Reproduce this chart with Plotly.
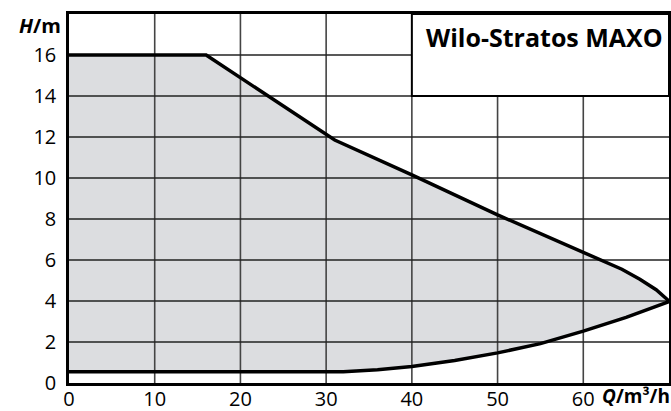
import plotly.graph_objects as go

# Upper limit curve (max head)
top_q = [0, 16, 31, 40, 50, 60, 62.1, 64.5, 66.6, 68.5, 70]
top_h = [16, 16, 11.85, 10.15, 8.2, 6.4, 6.0, 5.55, 5.06, 4.55, 4.0]
# Lower limit curve (min head)
bot_q = [0, 32, 36, 40, 45, 50, 55, 60, 65, 70]
bot_h = [0.55, 0.55, 0.65, 0.81, 1.1, 1.47, 1.92, 2.53, 3.2, 3.97]

x_ticks = [0, 10, 20, 30, 40, 50, 60]
y_ticks = [0, 2, 4, 6, 8, 10, 12, 14, 16]
x_grid = [10, 20, 30, 40, 50, 60]
y_grid = [2, 4, 6, 8, 10, 12, 14, 16]
title_text = "Wilo-Stratos MAXO"

FONT = "Open Sans"
X_MAX, Y_MAX = 70, 18

fig = go.Figure()
poly_q = top_q + bot_q[::-1]
poly_h = top_h + bot_h[::-1]
fig.add_trace(go.Scatter(x=poly_q, y=poly_h, fill="toself", fillcolor="#dcdde0",
                         line=dict(width=0), mode="lines", hoverinfo="skip"))

# grid lines drawn above the fill
gx, gy = [], []
for v in x_grid:
    gx += [v, v, None]
    gy += [0, Y_MAX, None]
fig.add_trace(go.Scatter(x=gx, y=gy, mode="lines", line=dict(color="#444444", width=1.6),
                         hoverinfo="skip"))
hx, hy = [], []
for v in y_grid:
    hx += [0, X_MAX, None]
    hy += [v, v, None]
fig.add_trace(go.Scatter(x=hx, y=hy, mode="lines", line=dict(color="#222222", width=1.4),
                         hoverinfo="skip"))

fig.add_trace(go.Scatter(x=top_q, y=top_h, mode="lines",
                         line=dict(color="black", width=3.5)))
fig.add_trace(go.Scatter(x=bot_q, y=bot_h, mode="lines",
                         line=dict(color="black", width=3.5)))

fig.add_shape(type="rect", x0=40, x1=X_MAX, y0=14, y1=Y_MAX, xref="x", yref="y",
              fillcolor="white", line=dict(color="black", width=2), layer="above")
fig.add_annotation(x=41.4, y=16.9, xref="x", yref="y", text="<b>" + title_text + "</b>",
                   showarrow=False, xanchor="left", yanchor="middle",
                   font=dict(family=FONT, size=25, color="black"))
fig.add_annotation(x=0, y=Y_MAX, xref="paper", yref="y", text="<b><i>H</i>/m</b>",
                   showarrow=False, xanchor="right", yanchor="middle", xshift=-6, yshift=-11,
                   font=dict(family=FONT, size=20, color="black"))
fig.add_annotation(x=1, y=0, xref="paper", yref="paper", text="<b><i>Q</i>/m³/h</b>",
                   showarrow=False, xanchor="right", yanchor="middle", xshift=3, yshift=-13,
                   font=dict(family=FONT, size=19, color="black"))

fig.update_layout(
    width=671, height=411, showlegend=False,
    margin=dict(l=69, r=2, t=14, b=28),
    plot_bgcolor="white", paper_bgcolor="white",
    font=dict(family=FONT, size=20, color="black"),
)
fig.update_xaxes(range=[0, X_MAX], tickvals=x_ticks, showgrid=False, automargin=False,
                 showline=True, linecolor="black", linewidth=2.5, mirror=True,
                 zeroline=False, ticks="", ticklabelstandoff=-4)
fig.update_yaxes(range=[0, Y_MAX], tickvals=y_ticks, showgrid=False, automargin=False,
                 showline=True, linecolor="black", linewidth=2.5, mirror=True,
                 zeroline=False, ticks="", ticklabelstandoff=6)

fig.write_html("out.html", config={"displayModeBar": False},
               post_script="document.body.style.margin='0';document.body.style.overflow='hidden';")
